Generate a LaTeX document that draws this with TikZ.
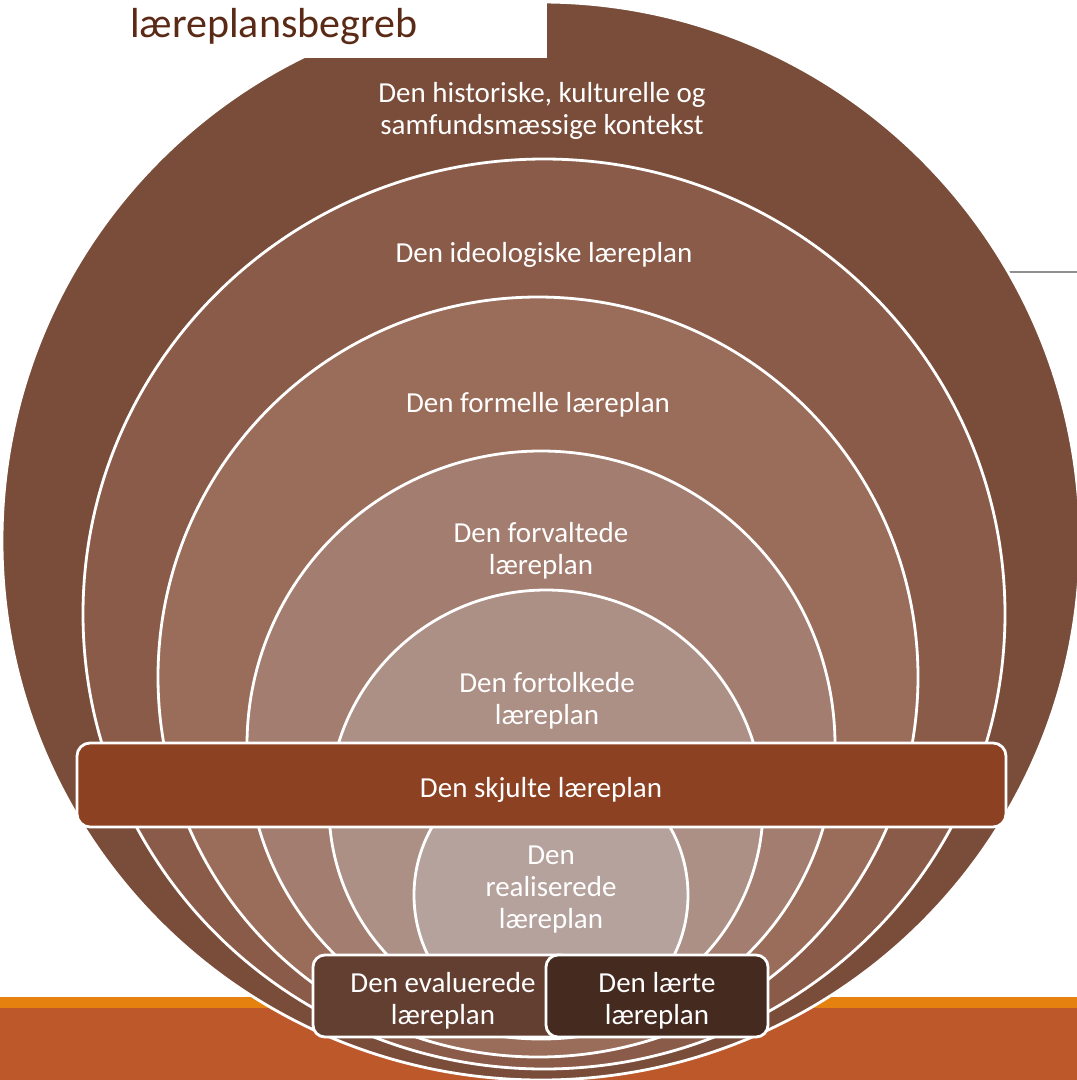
\documentclass[tikz,border=0pt]{standalone}
\usepackage{fontspec}
\setmainfont{Carlito}
\definecolor{cA}{HTML}{7A4D3A}
\definecolor{cB}{HTML}{8A5B48}
\definecolor{cC}{HTML}{9A6C5A}
\definecolor{cD}{HTML}{A37D6F}
\definecolor{cE}{HTML}{AC8F85}
\definecolor{cF}{HTML}{B5A29D}
\definecolor{cBar}{HTML}{8C4122}
\definecolor{cEv}{HTML}{633F31}
\definecolor{cLa}{HTML}{452A20}
\definecolor{cTitle}{HTML}{5A2A16}
\definecolor{cOrange}{HTML}{E5820F}
\definecolor{cRed}{HTML}{BD582B}
\definecolor{cGray}{HTML}{8F8F8F}
\begin{document}
\begin{tikzpicture}[x=1pt,y=-1pt,
  layer/.style={draw=white,line width=2.8pt},
  lbl/.style={text=white,font=\fontsize{29}{32}\selectfont,align=center,inner sep=0pt},
  titlestyle/.style={text=cTitle,font=\fontsize{42}{46}\selectfont,inner sep=0pt,anchor=base west},
  boxstyle/.style={draw=white,line width=2.8pt,rounded corners=13pt}
]
\useasboundingbox (0,0) rectangle (1077,1080);
\fill[white] (0,0) rectangle (1077,1080);
% bottom band
\fill[cOrange] (0,997) rectangle (1077,1008);
\fill[cRed] (0,1008) rectangle (1077,1080);
% grey rule on the right
\coordinate (ruleA) at (1005,272);
\coordinate (ruleB) at (1077,272);
\draw[cGray,line width=1.4pt] (ruleA) -- (ruleB);
% outer layer
\draw[layer,fill=cA] (541,541) circle[radius=539pt];
% title area
\fill[white] (0,0) rectangle (547,58);
\node[titlestyle] (title) at (130,37) {læreplansbegreb};
% nested layers
\draw[layer,fill=cB] (544,614) ellipse[x radius=461pt,y radius=455pt];
\draw[layer,fill=cC] (538,677) circle[radius=380pt];
\draw[layer,fill=cD] (541,745) circle[radius=294pt];
\draw[layer,fill=cE] (546,807) circle[radius=217pt];
\draw[layer,fill=cF] (551,895) circle[radius=137pt];
% hidden curriculum bar
\draw[boxstyle,fill=cBar] (77,743) rectangle (1006,827);
% bottom boxes
\draw[boxstyle,fill=cEv,rounded corners=12pt] (313,955) rectangle (574,1037);
\draw[boxstyle,fill=cLa,rounded corners=12pt] (546,955) rectangle (768,1037);
% labels
\node[lbl] (hist) at (542,111) {Den historiske, kulturelle og\\samfundsmæssige kontekst};
\node[lbl] (ideo) at (544,255) {Den ideologiske læreplan};
\node[lbl] (form) at (538,405) {Den formelle læreplan};
\node[lbl] (forv) at (541,551) {Den forvaltede\\læreplan};
\node[lbl] (fort) at (547,701) {Den fortolkede\\læreplan};
\node[lbl] (skju) at (541,790) {Den skjulte læreplan};
\node[lbl] (real) at (551,890) {Den\\realiserede\\læreplan};
\node[lbl] (eval) at (443,1001) {Den evaluerede\\læreplan};
\node[lbl] (laer) at (657,1001) {Den lærte\\læreplan};
\end{tikzpicture}
\end{document}
